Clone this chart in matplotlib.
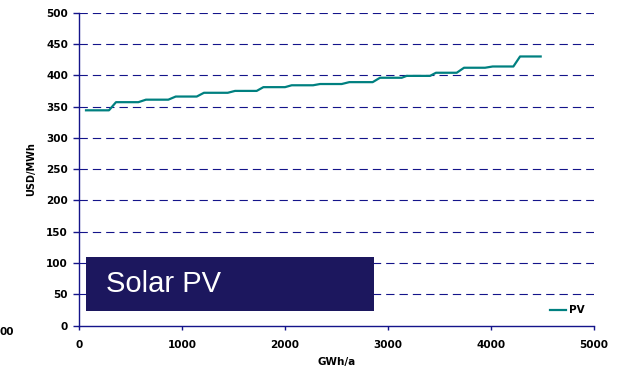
import matplotlib
matplotlib.use('Agg')
import matplotlib.pyplot as plt
from matplotlib.patches import Rectangle

# Cumulative generation (GWh/a) and cost (USD/MWh) for the PV supply curve
gwh = [68, 291, 359, 576, 650, 867, 939, 1143, 1213, 1444, 1515, 1725,
       1790, 2000, 2065, 2272, 2340, 2550, 2624, 2851, 2922, 3133, 3181,
       3408, 3466, 3667, 3738, 3942, 4016, 4217, 4282, 4482]
usd = [344, 344, 357, 357, 361, 361, 366, 366, 372, 372, 375, 375,
       381, 381, 384, 384, 386, 386, 389, 389, 396, 396, 399, 399,
       404, 404, 412, 412, 414, 414, 430, 430]

x_ticks = [0, 1000, 2000, 3000, 4000, 5000]
y_ticks = [0, 50, 100, 150, 200, 250, 300, 350, 400, 450, 500]

navy = '#14148a'
teal = '#008080'
bold = {'family': 'DejaVu Sans', 'weight': 'bold'}

fig = plt.figure(figsize=(6.3, 3.72), dpi=100)
ax = fig.add_axes([0.1254, 0.1245, 0.8175, 0.8415])

# Supply curve
ax.plot(gwh, usd, color=teal, linewidth=1.6, label='PV', zorder=3)

ax.set_xlim(0, 5000)
ax.set_ylim(0, 500)
ax.set_xticks(x_ticks)
ax.set_yticks(y_ticks)
ax.set_xticklabels([str(v) for v in x_ticks], fontsize=7.5, **bold)
ax.set_yticklabels([str(v) for v in y_ticks], fontsize=7.5, **bold)

# Dashed horizontal gridlines
for v in y_ticks[1:]:
    ax.axhline(v, color=navy, linewidth=0.8, linestyle=(0, (7.5, 4.5)), zorder=1)

for side in ['top', 'right']:
    ax.spines[side].set_visible(False)
for side in ['left', 'bottom']:
    ax.spines[side].set_color(navy)
    ax.spines[side].set_linewidth(1.0)
ax.tick_params(axis='y', colors=navy, length=4, width=1.0, labelcolor='black', pad=4)
ax.tick_params(axis='x', colors=navy, length=3, width=1.0, labelcolor='black', pad=7)

ax.set_xlabel('GWh/a', fontsize=7.5, labelpad=5, **bold)
ax.set_ylabel('USD/MWh', fontsize=7, labelpad=7, **bold)

# Title box
ax.add_patch(Rectangle((0.0136, 0.048), 0.5594, 0.1715, transform=ax.transAxes,
                       facecolor='#1c175e', edgecolor='none', zorder=4))
ax.text(0.053, 0.133, 'Solar PV', transform=ax.transAxes, color='white',
        family='Liberation Sans', fontsize=21, va='center', ha='left', zorder=5)

leg = ax.legend(loc='lower right', bbox_to_anchor=(0.995, 0.01), frameon=False,
                handlelength=1.6, handletextpad=0.2, borderaxespad=0.3,
                prop={'size': 7.5, **bold})

# Label from the neighbouring panel at the left edge
fig.text(0, 1 - 332 / 372, '00', fontsize=7.5, ha='left', va='center', **bold)

fig.savefig('out.png', dpi=100)
